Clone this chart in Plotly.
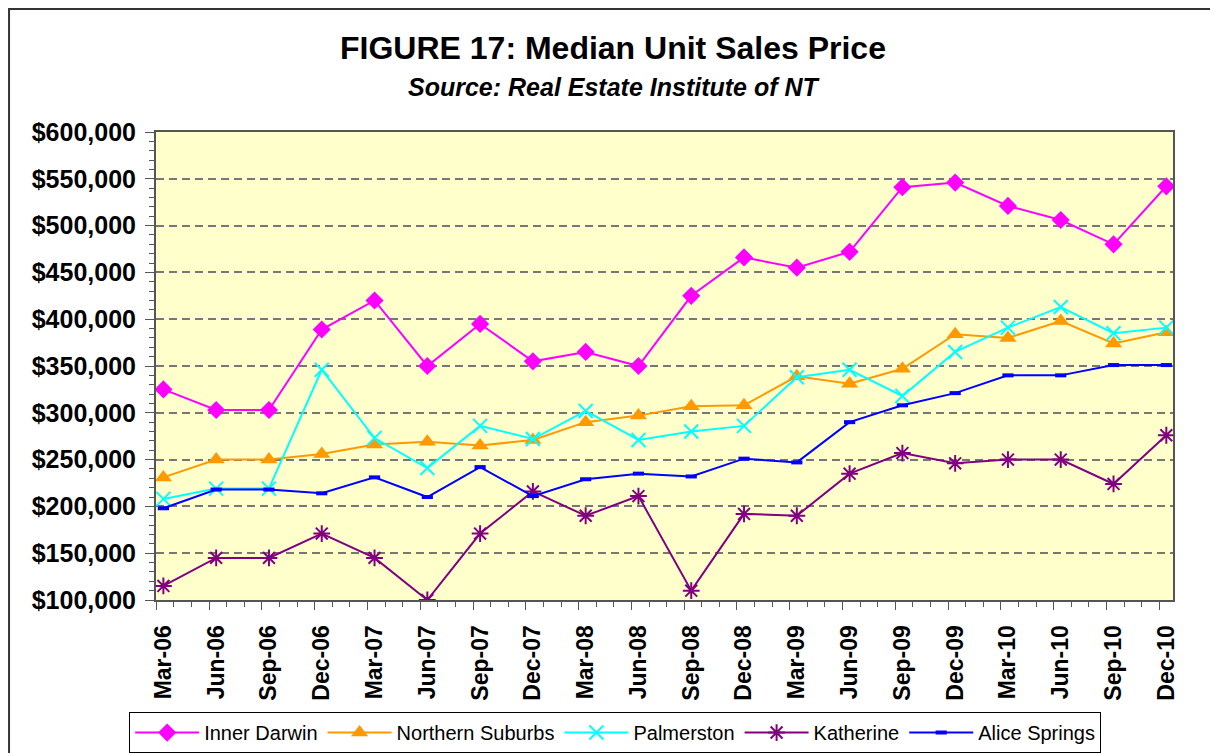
import plotly.graph_objects as go

# quarter labels and month offsets from Mar-06
quarters = ['Mar-06', 'Jun-06', 'Sep-06', 'Dec-06', 'Mar-07', 'Jun-07', 'Sep-07', 'Dec-07',
            'Mar-08', 'Jun-08', 'Sep-08', 'Dec-08', 'Mar-09', 'Jun-09', 'Sep-09', 'Dec-09',
            'Mar-10', 'Jun-10', 'Sep-10', 'Dec-10']
months = [3 * i for i in range(len(quarters))]

inner_darwin = [325000, 303000, 303000, 389000, 420000, 350000, 395000, 355000, 365000, 350000,
                425000, 466000, 455000, 472000, 541000, 546000, 521000, 506000, 480000, 542000]
northern_suburbs = [231000, 250000, 250000, 256000, 266000, 269000, 265000, 271000, 290000, 297000,
                    307000, 308000, 339000, 331000, 347000, 384000, 380000, 398000, 374000, 386000]
palmerston = [208000, 219000, 219000, 346000, 273000, 241000, 286000, 272000, 302000, 271000,
              280000, 286000, 338000, 346000, 318000, 365000, 391000, 413000, 385000, 391000]
katherine = [115000, 145000, 145000, 171000, 145000, 100000, 171000, 216000, 190000, 211000,
             110000, 192000, 190000, 235000, 257000, 246000, 250000, 250000, 224000, 276000]
alice_springs = [198000, 218000, 218000, 214000, 231000, 210000, 242000, 211000, 229000, 235000,
                 232000, 251000, 247000, 290000, 308000, 321000, 340000, 340000, 351000, 351000]

FONT = 'Arial, Liberation Sans, sans-serif'

series = [
    ('Inner Darwin', inner_darwin, '#FF00FF', dict(symbol='diamond', size=14)),
    ('Northern Suburbs', northern_suburbs, '#FF9900', dict(symbol='triangle-up', size=15)),
    ('Palmerston', palmerston, '#00FFFF', dict(symbol='x-thin-open', size=14, line=dict(width=2, color='#00FFFF'))),
    ('Katherine', katherine, '#800080', dict(symbol='asterisk-open', size=14, line=dict(width=2, color='#800080'))),
    ('Alice Springs', alice_springs, '#0000FF', dict(symbol='line-ew-open', size=8, line=dict(width=4, color='#0000FF'))),
]

fig = go.Figure()
for name, vals, color, marker in series:
    fig.add_trace(go.Scatter(x=months, y=vals, name=name, mode='lines+markers',
                             line=dict(color=color, width=2),
                             marker=dict(color=color, **marker)))

# invisible trace so the overlay axis with the long ticks is drawn
fig.add_trace(go.Scatter(x=[0], y=[None], xaxis='x2', showlegend=False, hoverinfo='skip'))

x_range = [-0.42, months[-1] + 0.38]
off = -0.4

fig.update_layout(
    width=1210, height=745,
    margin=dict(l=148, r=45, t=124, b=153),
    paper_bgcolor='white',
    plot_bgcolor='#FFFFCC',
    font=dict(family=FONT, color='black'),
    showlegend=True,
    legend=dict(orientation='h', xref='paper', x=0.4515, xanchor='center',
                yref='container', y=0.055, yanchor='top',
                font=dict(size=20, family=FONT), bordercolor='black', borderwidth=1,
                bgcolor='white', itemwidth=64, tracegroupgap=0),
    xaxis=dict(range=x_range, tickmode='array', tickvals=months, ticktext=quarters,
               tickangle=-90, ticks='', ticklabelstandoff=14,
               tickfont=dict(size=23, family=FONT, color='black', weight='bold'),
               showgrid=False, zeroline=False, showline=True, linecolor='#555555', linewidth=2,
               mirror=True, automargin=False,
               minor=dict(tickmode='array', tickvals=[m + off for m in range(months[-1] + 1)],
                          ticks='outside', ticklen=5, tickcolor='#555555', tickwidth=1)),
    xaxis2=dict(range=x_range, overlaying='x', anchor='y', side='bottom', tickmode='array',
                tickvals=[m + off for m in months], ticks='outside', ticklen=9,
                tickcolor='#555555', tickwidth=1, showticklabels=False, showgrid=False,
                zeroline=False, automargin=False),
    yaxis=dict(range=[100000, 600000], tickmode='linear', tick0=100000, dtick=50000,
               tickprefix='$', tickformat=',.0f', ticks='outside', ticklen=9,
               tickcolor='#555555', ticklabelstandoff=4,
               tickfont=dict(size=25, family=FONT, color='black', weight='bold'),
               showgrid=True, gridcolor='#777777', gridwidth=1.5, griddash='8px,5px',
               zeroline=False, showline=True, linecolor='#555555', linewidth=2, mirror=True,
               automargin=False,
               minor=dict(dtick=10000, ticks='outside', ticklen=5, tickcolor='#555555',
                          showgrid=False)),
    annotations=[
        dict(text='<b>FIGURE 17: Median Unit Sales Price</b>', xref='paper', yref='paper',
             x=0.4495, y=1.1795, xanchor='center', yanchor='middle', showarrow=False,
             font=dict(size=32, family=FONT, color='black')),
        dict(text='<b><i>Source: Real Estate Institute of NT</i></b>', xref='paper', yref='paper',
             x=0.4505, y=1.0962, xanchor='center', yanchor='middle', showarrow=False,
             font=dict(size=25, family=FONT, color='black')),
    ],
    # outer chart border: only left and top edges fall inside the picture
    shapes=[dict(type='rect', xref='paper', yref='paper', x0=-0.1445, x1=1.1,
                 y0=-0.5, y1=1.2628, line=dict(color='#333333', width=2), layer='above')],
)

fig.write_html("out.html")
